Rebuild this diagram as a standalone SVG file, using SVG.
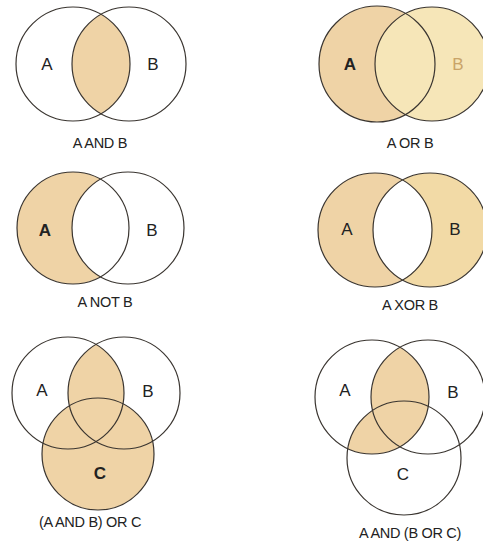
<svg xmlns="http://www.w3.org/2000/svg" width="483" height="546" viewBox="0 0 483 546">
<style>
.o{fill:none;stroke:#3a3530;stroke-width:1.2}
.f{fill:#efd3a6}
.fy{fill:#f2daa6}
.fl{fill:#f6e6b8}
.w{fill:#ffffff}
.lb{font-family:"Liberation Sans",Arial,sans-serif;font-size:17px;fill:#222;text-anchor:middle}
.b{font-weight:bold}
.cap{font-family:"Liberation Sans",Arial,sans-serif;font-size:14.5px;fill:#222;text-anchor:middle;letter-spacing:-0.3px}
</style>
<defs>
<clipPath id="c1A"><circle cx="73" cy="64" r="57"/></clipPath>
<clipPath id="c5A"><circle cx="68" cy="393" r="56"/></clipPath>
<clipPath id="c6A"><circle cx="372" cy="397" r="57"/></clipPath>
<clipPath id="c4A"><circle cx="375" cy="230" r="57"/></clipPath>
</defs>
<rect width="483" height="546" fill="#ffffff"/>

<g id="and">
<circle cx="129" cy="64" r="57" class="f" clip-path="url(#c1A)"/>
<circle cx="73" cy="64" r="57" class="o"/>
<circle cx="129" cy="64" r="57" class="o"/>
<text x="47" y="70" class="lb">A</text>
<text x="153" y="70" class="lb">B</text>
<text x="100" y="148" class="cap">A AND B</text>
</g>

<g id="or">
<circle cx="377" cy="64" r="58" class="f"/>
<circle cx="432" cy="64" r="57" class="fl"/>
<circle cx="377" cy="64" r="58" class="o"/>
<circle cx="432" cy="64" r="57" class="o"/>
<text x="350" y="70" class="lb b">A</text>
<text x="458" y="70" class="lb" style="fill:#c9a468">B</text>
<text x="410" y="148" class="cap">A OR B</text>
</g>

<g id="not">
<circle cx="73" cy="228" r="56" class="f"/>
<circle cx="128" cy="228" r="56" class="w"/>
<circle cx="73" cy="228" r="56" class="o"/>
<circle cx="128" cy="228" r="56" class="o"/>
<text x="45" y="236" class="lb b">A</text>
<text x="152" y="236" class="lb">B</text>
<text x="105" y="307" class="cap">A NOT B</text>
</g>

<g id="xor">
<circle cx="375" cy="230" r="57" class="f"/>
<circle cx="430" cy="230" r="57" class="fy"/>
<circle cx="430" cy="230" r="57" class="w" clip-path="url(#c4A)"/>
<circle cx="375" cy="230" r="57" class="o"/>
<circle cx="430" cy="230" r="57" class="o"/>
<text x="347" y="235" class="lb">A</text>
<text x="455" y="235" class="lb">B</text>
<text x="410" y="310" class="cap">A XOR B</text>
</g>

<g id="andorc">
<circle cx="98" cy="454" r="56" class="f"/>
<circle cx="124" cy="393" r="56" class="f" clip-path="url(#c5A)"/>
<circle cx="68" cy="393" r="56" class="o"/>
<circle cx="124" cy="393" r="56" class="o"/>
<circle cx="98" cy="454" r="56" class="o"/>
<text x="42" y="396" class="lb">A</text>
<text x="148" y="397" class="lb">B</text>
<text x="100" y="479" class="lb b">C</text>
<text x="90" y="527" class="cap">(A AND B) OR C</text>
</g>

<g id="andbc">
<g clip-path="url(#c6A)">
<circle cx="428" cy="397" r="57" class="f"/>
<circle cx="404" cy="458" r="57" class="f"/>
</g>
<circle cx="372" cy="397" r="57" class="o"/>
<circle cx="428" cy="397" r="57" class="o"/>
<circle cx="404" cy="458" r="57" class="o"/>
<text x="345" y="396" class="lb">A</text>
<text x="453" y="398" class="lb">B</text>
<text x="403" y="480" class="lb">C</text>
<text x="410" y="538" class="cap">A AND (B OR C)</text>
</g>
</svg>
